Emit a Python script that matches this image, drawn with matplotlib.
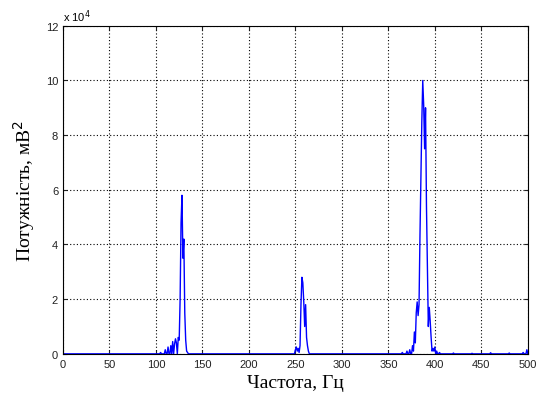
import numpy as np
import matplotlib.pyplot as plt

# spectrum values (x 10^4 mV^2), everything else is ~0
peak1_freq = [105, 110, 113, 116, 118, 120, 121, 122, 124, 125, 126, 127, 128, 129, 130, 131, 132, 133, 134]
peak1_power = [0.05, 0.15, 0.25, 0.3, 0.45, 0.35, 0.55, 0.4, 0.6, 0.5, 2.0, 4.8, 5.8, 3.5, 4.2, 1.5, 0.5, 0.1, 0.05]

peak2_freq = [250, 251, 252, 253, 254, 255, 256, 257, 258, 259, 260, 261, 262, 263, 264]
peak2_power = [0.15, 0.25, 0.1, 0.2, 0.05, 0.3, 1.8, 2.8, 2.6, 1.9, 1.0, 1.8, 0.6, 0.3, 0.1]

peak3_freq = [365, 370, 373, 376, 377, 378, 379, 380, 381, 382, 383, 384, 385, 386, 387,
              388, 389, 390, 391, 392, 393, 394, 395, 396, 397, 398, 399, 400, 402, 405]
peak3_power = [0.05, 0.1, 0.15, 0.3, 0.1, 0.8, 0.4, 1.5, 1.9, 1.4, 1.8, 4.3, 6.3, 8.5, 10.0,
               9.1, 7.5, 9.0, 5.4, 3.2, 1.0, 1.7, 1.2, 0.6, 0.1, 0.2, 0.1, 0.25, 0.1, 0.05]

tail_freq = [420, 440, 460, 480, 495, 499]
tail_power = [0.03, 0.02, 0.04, 0.03, 0.05, 0.15]

freq = np.arange(0, 501)
power = np.zeros(len(freq))
for f, p in [(peak1_freq, peak1_power), (peak2_freq, peak2_power),
             (peak3_freq, peak3_power), (tail_freq, tail_power)]:
    power[np.array(f)] = p

fig = plt.figure(figsize=(5.43, 4.06), dpi=100)
ax = fig.add_axes([0.116, 0.126, 0.856, 0.808])
ax.plot(freq, power, color='blue', lw=1.0)

ax.set_xlim(0, 500)
ax.set_ylim(0, 12)
ax.set_xticks(np.arange(0, 501, 50))
ax.set_yticks(np.arange(0, 13, 2))
ax.grid(True, color='black', linestyle=(0, (1, 2)), lw=0.8)
ax.tick_params(direction='in', top=True, right=True, length=3, labelsize=8,
               colors='#222222')
for lbl in ax.get_xticklabels() + ax.get_yticklabels():
    lbl.set_family('Liberation Sans')
for s in ax.spines.values():
    s.set_linewidth(0.8)

ax.text(0.0, 1.005, r'x 10$^4$', transform=ax.transAxes, fontsize=8,
        family='Liberation Sans', va='bottom', ha='left')
ax.set_xlabel('Частота, Гц', family='Liberation Serif', fontsize=14, labelpad=4)
ax.set_ylabel('Потужність, мВ$^2$', family='Liberation Serif', fontsize=14, labelpad=6)

fig.savefig('out.png', dpi=100)
